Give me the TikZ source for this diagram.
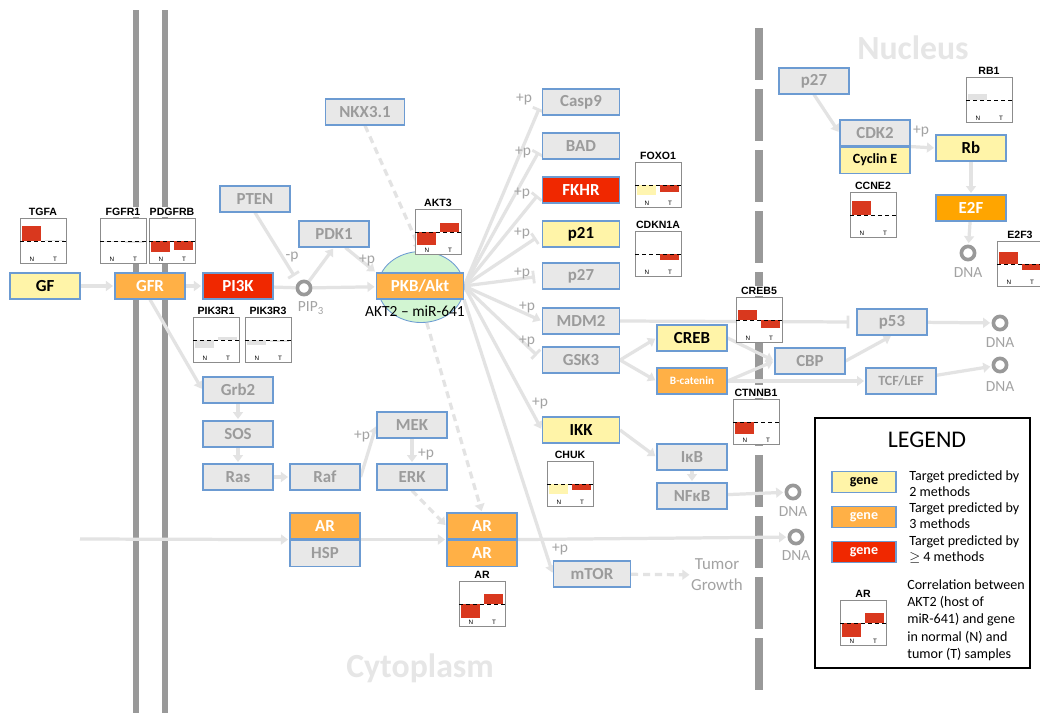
\documentclass[tikz,border=0pt]{standalone}
\usepackage{fontspec}
\setmainfont{Carlito}
\newfontfamily\chartfont{Liberation Sans}
\usetikzlibrary{arrows.meta,positioning,shapes.geometric}
\definecolor{GeneGray}    {HTML}{E8E8E8}
\definecolor{GeneText}    {HTML}{9B9B9B}
\definecolor{GeneYellow}  {HTML}{FFF4A8}
\definecolor{GeneOrange}  {HTML}{FFB046}
\definecolor{GeneRed}     {HTML}{F02800}
\definecolor{E2FOrange}   {HTML}{FFA500}
\definecolor{EdgeBlue}    {HTML}{6C9BD2}
\definecolor{LinkGray}    {HTML}{E3E3E3}
\definecolor{LabelGray}   {HTML}{A3A3A3}
\definecolor{MembraneGray}{HTML}{999999}
\definecolor{RegionText}  {HTML}{E6E6E6}
\definecolor{AktGreen}    {HTML}{D2F5D2}
\definecolor{BarRed}      {HTML}{D9381E}
\definecolor{BarYellow}   {HTML}{FFF5B0}
\definecolor{BarGray}     {HTML}{E2E2E2}
\definecolor{ChartFrame}  {HTML}{8C8C8C}

\pgfdeclarelayer{bg}
\pgfdeclarelayer{links}
\pgfsetlayers{bg,links,main}

\tikzset{
  genebox/.style={rectangle,draw=EdgeBlue,line width=0.8pt,minimum width=1.75cm,
    minimum height=0.65cm,inner sep=0pt,font=\bfseries\fontsize{12}{14}\selectfont},
  graybox/.style={genebox,fill=GeneGray,text=GeneText},
  yelbox/.style={genebox,fill=GeneYellow,text=black},
  orgbox/.style={genebox,fill=GeneOrange,text=white},
  redbox/.style={genebox,fill=GeneRed,text=white},
  widebox/.style={minimum width=1.925cm},
  smalltext/.style={font=\bfseries\fontsize{10}{12}\selectfont},
  link/.style={draw=LinkGray,line width=2.3pt,-{Triangle[length=5pt,width=7pt]},shorten >=1pt},
  stopper/.style={draw=LinkGray,line width=2.3pt,-{Bar[width=9pt,line width=2pt]},shorten >=5pt},
  dashlink/.style={link,dash pattern=on 5pt off 3.5pt},
  plainlink/.style={draw=LinkGray,line width=2.3pt},
  plabel/.style={text=LabelGray,font=\fontsize{11}{13}\selectfont,inner sep=0pt},
  dnaring/.style={circle,draw=MembraneGray,line width=2.6pt,minimum size=0.33cm,inner sep=0pt},
  membrane/.style={draw=MembraneGray,line width=4.5pt},
  regiontext/.style={text=RegionText,font=\bfseries\fontsize{24}{28}\selectfont},
  chartbox/.style={rectangle,draw=ChartFrame,fill=white,line width=0.5pt,
    minimum width=1.15cm,minimum height=1.125cm,inner sep=0pt},
  charttitle/.style={font=\chartfont\bfseries\fontsize{7.5}{8}\selectfont,inner sep=1pt,fill=white},
  chartnt/.style={font=\chartfont\fontsize{4.5}{5}\selectfont,inner sep=0pt},
  legendbox/.style={genebox,minimum width=1.6cm,minimum height=0.525cm,
    font=\bfseries\fontsize{10}{12}\selectfont},
  legendtext/.style={anchor=north west,align=left,font=\fontsize{10}{11.4}\selectfont,inner sep=0pt},
}

% #1 name, #2 centre x, #3 top y, #4 title, #5/#6 N bar and colour, #7/#8 T bar and colour
\newcommand{\minichart}[8]{%
  \node[chartbox] (#1) at (#2,{#3+22}) {};
  \node[charttitle,above=0.5pt of #1] (#1t) {#4};
  \fill[#6] ({#2-21},{#3+22}) rectangle ({#2-2},{#3+22-(#5)});
  \fill[#8] ({#2+2},{#3+22}) rectangle ({#2+21},{#3+22-(#7)});
  \draw[densely dashed,line width=0.5pt] ({#2-23},{#3+22}) -- ({#2+23},{#3+22});
  \node[chartnt] (#1n) at ({#2-11},{#3+40}) {N};
  \node[chartnt] (#1tt) at ({#2+12},{#3+40}) {T};
}

\begin{document}
\begin{tikzpicture}[x=0.025cm,y=-0.025cm]
  \begin{pgfonlayer}{bg}
    \fill[white] (0,0) rectangle (1040,713);
    \node[regiontext] (nucleus) at (913,48) {Nucleus};
    \node[regiontext] (cytoplasm) at (420,668) {Cytoplasm};
    \foreach \mx in {136,165}
      \draw[membrane] (\mx,10) -- (\mx,713);
    \draw[membrane,line width=5pt,dash pattern=on 37pt off 6.4pt] (759,28) -- (759,691);
  \end{pgfonlayer}
  \useasboundingbox (0,0) rectangle (1040,713);

  % membrane receptors and PI3K branch
  \node[yelbox] (gf) at (45,286) {GF};
  \node[orgbox] (gfr) at (150,286) {GFR};
  \node[redbox] (pi3k) at (238,286) {PI3K};
  \node[graybox] (pten) at (255,199) {PTEN};
  \node[graybox] (pdk1) at (334,234) {PDK1};
  \node[graybox,minimum width=1.975cm] (nkx) at (365,112) {NKX3.1};
  \node[dnaring] (pip3) at (304,288) {};
  \node[plabel] (pip3lbl) at (311,308) {PIP\textsubscript{3}};
  \node[ellipse,draw=EdgeBlue,line width=0.6pt,fill=AktGreen,minimum width=2.15cm,
        minimum height=1.775cm] (akt2ell) at (421,287) {};
  \node[orgbox,minimum width=2.175cm] (pkb) at (420,286) {PKB/Akt};
  \node[font=\fontsize{11}{13}\selectfont,inner sep=0pt] (akt2lbl) at (415,311) {AKT2 – miR-641};

  % Akt targets
  \node[graybox,widebox] (casp9) at (581,102) {Casp9};
  \node[graybox,widebox] (bad) at (581,146) {BAD};
  \node[redbox,widebox] (fkhr) at (581,190) {FKHR};
  \node[yelbox,widebox] (p21) at (581,234) {p21};
  \node[graybox,widebox] (p27c) at (581,276) {p27};
  \node[graybox,widebox] (mdm2) at (581,321) {MDM2};
  \node[graybox,widebox] (gsk3) at (581,360) {GSK3};
  \node[yelbox,widebox] (ikk) at (581,430) {IKK};
  \node[yelbox] (creb) at (692,338) {CREB};
  \node[orgbox,font=\bfseries\fontsize{8}{10}\selectfont] (bcat) at (692,381) {B-catenin};
  \node[graybox] (ikb) at (692,457) {IκB};
  \node[graybox] (nfkb) at (692,496) {NFκB};
  \node[graybox] (cbp) at (810,361) {CBP};
  \node[graybox] (p53) at (892,322) {p53};
  \node[graybox,smalltext] (tcf) at (901,381) {TCF/LEF};
  \node[graybox,widebox] (mtor) at (592,574) {mTOR};
  \node[text=LabelGray,align=center,font=\fontsize{12}{15}\selectfont,inner sep=0pt] (tumor) at (717,575) {Tumor\\Growth};

  % nucleus
  \node[graybox] (p27n) at (814,81) {p27};
  \node[graybox] (cdk2) at (875,133) {CDK2};
  \node[yelbox,smalltext,below=0pt of cdk2] (cyce) {Cyclin E};
  \node[yelbox] (rb) at (971,148) {Rb};
  \node[genebox,fill=E2FOrange,text=white] (e2f) at (971,208) {E2F};

  % MAPK branch and AR
  \node[graybox] (grb2) at (238,390) {Grb2};
  \node[graybox] (sos) at (238,434) {SOS};
  \node[graybox] (ras) at (238,477) {Ras};
  \node[graybox] (raf) at (325,477) {Raf};
  \node[graybox] (mek) at (412,425) {MEK};
  \node[graybox] (erk) at (412,477) {ERK};
  \node[orgbox] (ar1) at (325,526) {AR};
  \node[graybox,below=0pt of ar1] (hsp) {HSP};
  \node[orgbox] (ar2a) at (482,526) {AR};
  \node[orgbox,below=0pt of ar2a] (ar2b) {AR};
  \coordinate (arin) at (80,539);

  % DNA rings
  \node[dnaring] (dna1) at (1000,323) {};
  \node[plabel] (dna1lbl) at (1000,343) {DNA};
  \node[dnaring] (dna2) at (1000,365) {};
  \node[plabel] (dna2lbl) at (1000,387) {DNA};
  \node[dnaring] (dna3) at (793,492) {};
  \node[plabel] (dna3lbl) at (793,512) {DNA};
  \node[dnaring] (dna4) at (796,537) {};
  \node[plabel] (dna4lbl) at (796,556) {DNA};
  \node[dnaring] (dna5) at (968,253) {};
  \node[plabel] (dna5lbl) at (968,273) {DNA};

  % phosphorylation labels
  \node[plabel] (ppten) at (292,257) {-p};
  \node[plabel] (ppdk1) at (367,260) {+p};
  \node[plabel] (pcasp9) at (524,99) {+p};
  \node[plabel] (pbad) at (523,152) {+p};
  \node[plabel] (pfkhr) at (522,193) {+p};
  \node[plabel] (pp21) at (522,233) {+p};
  \node[plabel] (pp27) at (522,273) {+p};
  \node[plabel] (pmdm2) at (527,307) {+p};
  \node[plabel] (pgsk3) at (527,341) {+p};
  \node[plabel] (pikk) at (540,403) {+p};
  \node[plabel] (pmtor) at (560,549) {+p};
  \node[plabel] (pmek) at (362,436) {+p};
  \node[plabel] (perk) at (426,454) {+p};
  \node[plabel] (prb) at (921,131) {+p};

  \begin{pgfonlayer}{links}
    \draw[link] (gf) -- (gfr);
    \draw[link] (gfr) -- (pi3k);
    \draw[plainlink] (pi3k) -- (pip3);
    \draw[link] (pip3) -- (pkb);
    \draw[stopper] (pten.south) -- (pip3.north west);
    \draw[link] (pip3) -- (pdk1.south);
    \draw[link] (pdk1.-50) -- (pkb.north west);
    \draw[dashlink] (nkx.south) -- (akt2ell.north);
    \foreach \tgt in {casp9,bad,fkhr,p21,p27c,gsk3}
      \draw[stopper] (pkb.east) -- (\tgt.west);
    \draw[link] (pkb.east) -- (mdm2.west);
    \draw[link] (pkb.east) -- (ikk.west);
    \draw[link] (pkb.south east) -- (mtor.west);
    \draw[dashlink] (pkb.south) -- (ar2a.north);
    \draw[link] (gfr.south) -- (grb2.west);
    \draw[link] (grb2) -- (sos);
    \draw[link] (sos) -- (ras);
    \draw[link] (ras) -- (raf);
    \draw[link] (raf.east) -- (mek.west);
    \draw[link] (mek) -- (erk);
    \draw[dashlink] (erk.south) -- (ar2a.west);
    \draw[link] (arin) -- (ar1.south west);
    \draw[link] (ar1.south east) -- (ar2a.south west);
    \draw[link] (ar2a.south east) -- (dna4);
    \draw[dashlink] (mtor) -- (tumor);
    \draw[link] (gsk3.east) -- (creb.west);
    \draw[link] (gsk3.east) -- (bcat.west);
    \draw[stopper] (mdm2.east) -- (p53.west);
    \draw[link] (creb.east) -- (cbp.west);
    \draw[link] (bcat.east) -- (cbp.west);
    \draw[link] (bcat.east) -- (tcf.west);
    \draw[link] (cbp.east) -- (p53.south);
    \draw[link] (p53) -- (dna1);
    \draw[link] (tcf) -- (dna2);
    \draw[link] (ikk.east) -- (ikb.west);
    \draw[link] (ikb) -- (nfkb);
    \draw[link] (nfkb) -- (dna3);
    \draw[link] (p27n.south) -- (cdk2.west);
    \draw[link] (cdk2.south east) -- (rb.west);
    \draw[link] (rb) -- (e2f);
    \draw[link] (e2f) -- (dna5);
  \end{pgfonlayer}

  % expression charts
  \minichart{tgfa}{43}{219}{TGFA}{15}{BarRed}{1.5}{BarGray}
  \minichart{fgfr1}{123}{219}{FGFR1}{-1}{BarGray}{-2}{BarGray}
  \minichart{pdgfrb}{172}{219}{PDGFRB}{-11}{BarRed}{-9}{BarRed}
  \minichart{pik3r1}{216}{318}{PIK3R1}{-8}{BarGray}{3}{BarGray}
  \minichart{pik3r3}{268}{318}{PIK3R3}{-5}{BarGray}{-2}{BarGray}
  \minichart{akt3}{438}{210}{AKT3}{-13}{BarRed}{9}{BarRed}
  \minichart{foxo1}{658}{163}{FOXO1}{-10}{BarYellow}{-7}{BarRed}
  \minichart{cdkn1a}{658}{232}{CDKN1A}{0}{white}{-6}{BarRed}
  \minichart{creb5}{759}{298}{CREB5}{10}{BarRed}{-8}{BarRed}
  \minichart{ctnnb1}{756}{400}{CTNNB1}{-12}{BarRed}{0}{white}
  \minichart{chuk}{570}{462}{CHUK}{-10}{BarYellow}{-6}{BarRed}
  \minichart{ccne2}{873}{193}{CCNE2}{14}{BarRed}{0}{white}
  \minichart{rb1}{989}{78}{RB1}{6}{BarGray}{0}{white}
  \minichart{e2f3}{1020}{242}{E2F3}{12}{BarRed}{-6}{BarRed}
  \minichart{archart}{482}{582}{AR}{-14}{BarRed}{10}{BarRed}

  % legend
  \node[rectangle,draw=black,line width=0.9pt,fill=white,minimum width=5.375cm,
        minimum height=6.25cm,inner sep=0pt] (legend) at (922.5,543) {};
  \node[font=\fontsize{17}{20}\selectfont] (legendtitle) at (927,440) {LEGEND};
  \node[legendbox,fill=GeneYellow] (lgyel) at (864,482) {gene};
  \node[legendbox,fill=GeneOrange,text=white] (lgorg) at (864,517) {gene};
  \node[legendbox,fill=GeneRed,text=white] (lgred) at (864,552) {gene};
  \node[legendtext] (lgyeltxt) at (909,470) {Target predicted by\\2 methods};
  \node[legendtext] (lgorgtxt) at (909,502) {Target predicted by\\3 methods};
  \node[legendtext] (lgredtxt) at (909,535) {Target predicted by\\$\geq$ 4 methods};
  \minichart{lgar}{863}{601}{AR}{-14}{BarRed}{10}{BarRed}
  \node[legendtext,font=\fontsize{10}{12.4}\selectfont] (lgartxt) at (907,579)
    {Correlation between\\AKT2 (host of\\miR-641) and gene\\in normal (N) and\\tumor (T) samples};
\end{tikzpicture}
\end{document}
